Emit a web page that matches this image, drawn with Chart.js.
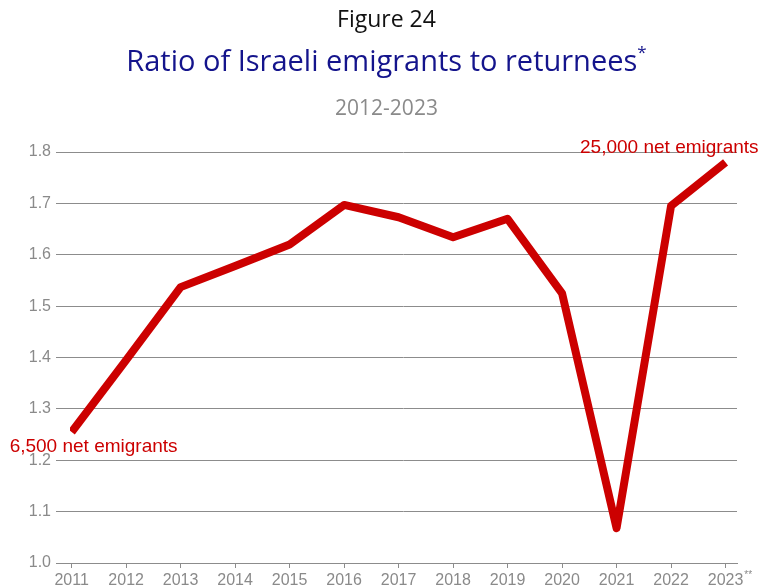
<!DOCTYPE html>
<html>
<head>
<meta charset="utf-8">
<script src="https://cdn.jsdelivr.net/npm/chart.js@4.4.1/dist/chart.umd.min.js"></script>
<style>
    html, body { margin: 0; padding: 0; background: #fff; }
    #wrap { position: relative; width: 773px; height: 587px; overflow: hidden; }
    #chartBox { position: absolute; left: 0; top: 0; width: 773px; height: 587px; }
    .head { position: absolute; left: 0; width: 773px; text-align: center; font-family: "Open Sans", sans-serif; white-space: nowrap; }
    #fig { top: 2px; font-size: 23px; color: #111; }
    #title { top: 40px; font-size: 29px; color: #14148c; }
    #title sup { font-size: 17px; position: relative; top: -2px; }
    #sub { top: 93px; font-size: 21px; color: #8a8a8a; }
</style>
</head>
<body>
<div id="wrap">
    <div id="chartBox"><canvas id="ratioChart"></canvas></div>
    <div class="head" id="fig">Figure 24</div>
    <div class="head" id="title">Ratio of Israeli emigrants to returnees<sup>*</sup></div>
    <div class="head" id="sub">2012-2023</div>
</div>
<script>
    // yearly ratio of emigrants to returnees
    const years = [2011, 2012, 2013, 2014, 2015, 2016, 2017, 2018, 2019, 2020, 2021, 2022, 2023];
    const ratios = [1.255, 1.395, 1.537, 1.578, 1.62, 1.697, 1.673, 1.634, 1.67, 1.525, 1.068, 1.695, 1.78];
    const yMin = 1.0, yMax = 1.8, yStep = 0.1;

    // end labels
    const firstNote = "6,500 net emigrants";
    const lastNote = "25,000 net emigrants";
    const lastYearMark = "**";

    const RED = '#cc0000';
    const GRID = '#8c8c8c';
    const TICK = '#8a8a8a';
    const SANS = '"Liberation Sans", Arial, sans-serif';

    const notesPlugin = {
        id: 'notes',
        afterDraw(chart) {
            const ctx = chart.ctx;
            const x = chart.scales.x, y = chart.scales.y;
            ctx.save();
            ctx.fillStyle = RED;
            ctx.font = '19px ' + SANS;
            ctx.textBaseline = 'alphabetic';

            const x0 = x.getPixelForValue(years[0]);
            const y0 = y.getPixelForValue(ratios[0]);
            ctx.textAlign = 'left';
            ctx.fillText(firstNote, x0 - 62, y0 + 20);

            const n = years.length - 1;
            const x1 = x.getPixelForValue(years[n]);
            const y1 = y.getPixelForValue(ratios[n]);
            ctx.textAlign = 'right';
            ctx.fillText(lastNote, x1 + 33, y1 - 9);

            // footnote marks after the last year label
            ctx.font = '16px ' + SANS;
            const w = ctx.measureText(String(years[n])).width;
            ctx.font = '10px ' + SANS;
            ctx.fillStyle = TICK;
            ctx.textAlign = 'left';
            ctx.fillText(lastYearMark, x1 + w / 2 + 1, x.bottom - 9);
            ctx.restore();
        }
    };

    const ctx = document.getElementById('ratioChart').getContext('2d');
    new Chart(ctx, {
        type: 'line',
        data: {
            labels: years,
            datasets: [{
                data: years.map((yr, i) => ({ x: yr, y: ratios[i] })),
                borderColor: RED,
                borderWidth: 8,
                borderJoinStyle: 'round',
                borderCapStyle: 'butt',
                pointRadius: 0,
                fill: false,
                tension: 0
            }]
        },
        options: {
            responsive: true,
            maintainAspectRatio: false,
            animation: false,
            layout: { padding: { top: 152, right: 36, left: 0, bottom: 0 } },
            plugins: {
                legend: { display: false },
                tooltip: { enabled: false }
            },
            scales: {
                x: {
                    type: 'linear',
                    min: 2010.97,
                    max: 2023.21,
                    afterBuildTicks: (scale) => { scale.ticks = years.map(v => ({ value: v })); },
                    afterFit: (scale) => { scale.height = 24; },
                    grid: { drawOnChartArea: false, drawTicks: true, tickLength: 5, color: GRID },
                    border: { display: true, color: GRID },
                    ticks: {
                        color: TICK,
                        padding: 3,
                        maxRotation: 0,
                        autoSkip: false,
                        font: { family: SANS, size: 16 },
                        callback: (v) => String(v)
                    }
                },
                y: {
                    min: yMin,
                    max: yMax,
                    afterFit: (scale) => { scale.width = 70; },
                    grid: { color: GRID, tickLength: 14, drawTicks: true },
                    border: { display: false },
                    ticks: {
                        stepSize: yStep,
                        color: TICK,
                        padding: 5,
                        font: { family: SANS, size: 16 },
                        callback: (v) => Number(v).toFixed(1)
                    }
                }
            }
        },
        plugins: [notesPlugin]
    });
</script>
</body>
</html>
